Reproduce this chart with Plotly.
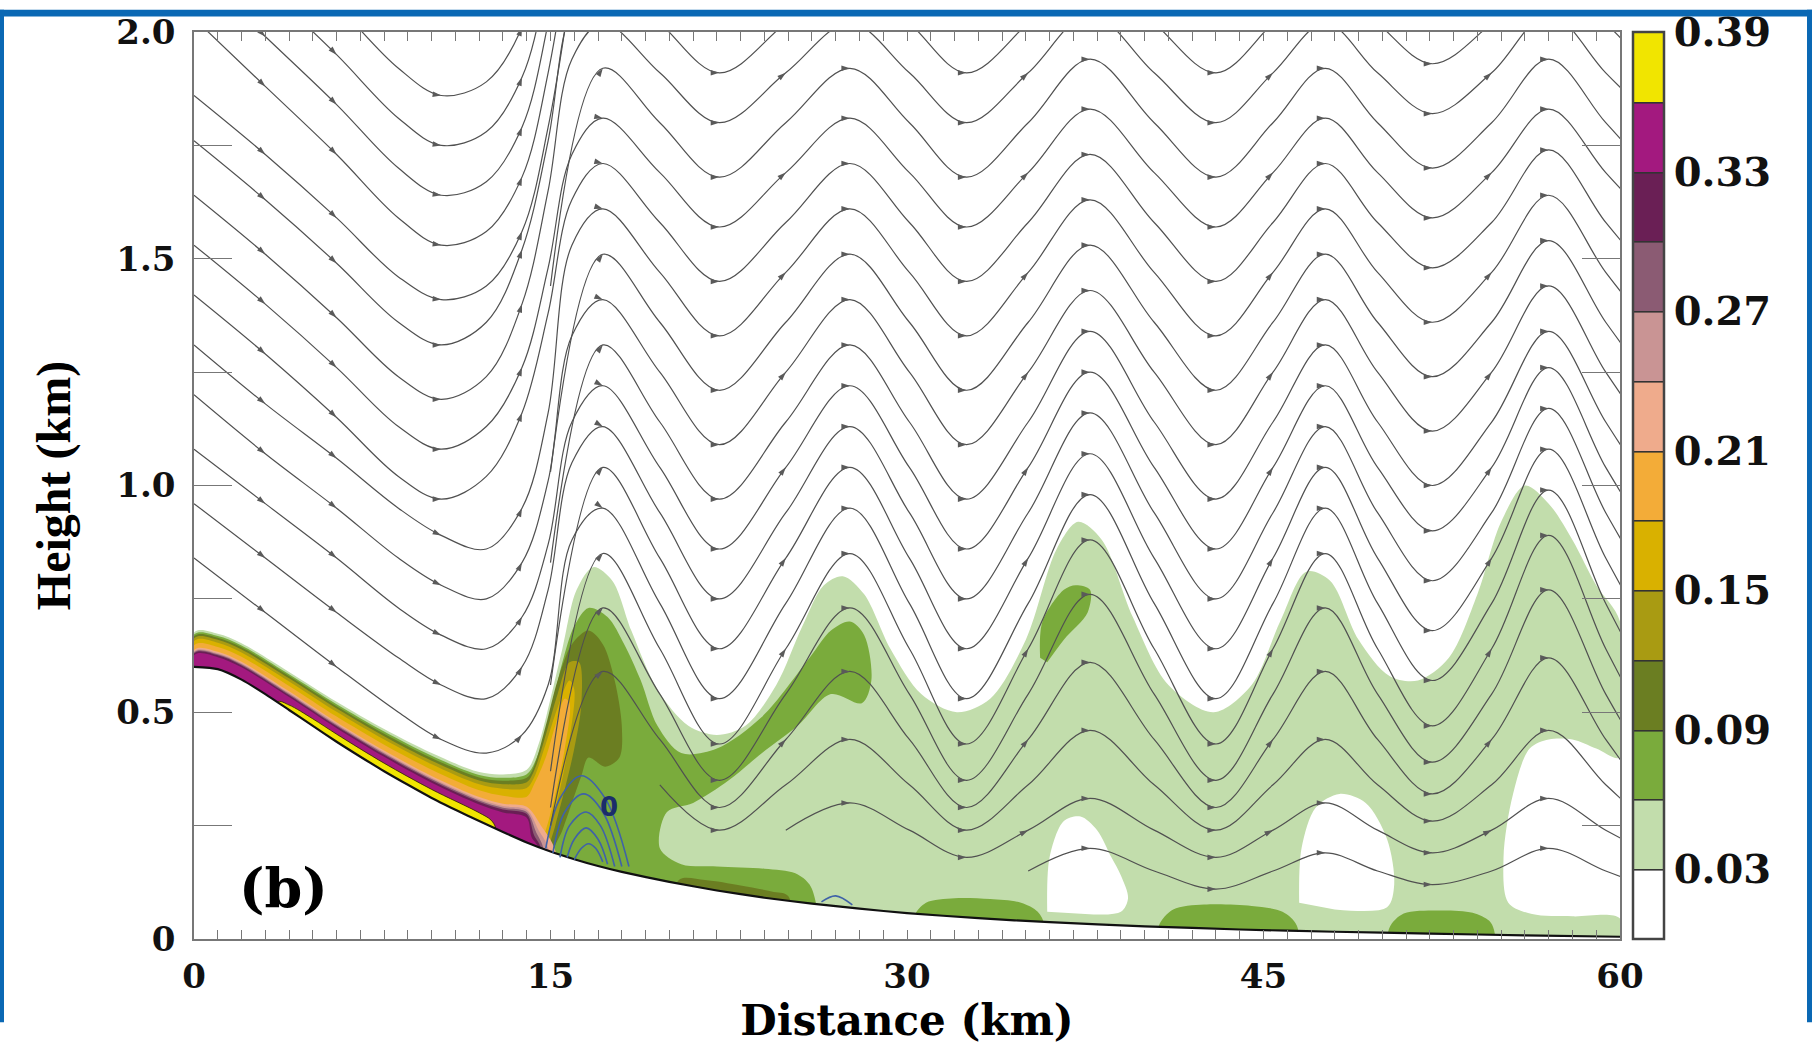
import math
import numpy as np
import plotly.graph_objects as go

# ---------------- data ----------------
TERRAIN_X = [0, 1, 2, 3, 4, 5, 6, 7, 8, 9, 10, 11, 12, 13, 14, 15, 16, 17, 18, 20, 22, 24, 26, 28, 30, 33, 36, 40, 44, 48, 52, 56, 60]
TERRAIN_Z = [0.600, 0.595, 0.572, 0.540, 0.505, 0.470, 0.435, 0.402, 0.370, 0.340, 0.311, 0.285, 0.260, 0.236, 0.213,
             0.193, 0.176, 0.161, 0.148, 0.126, 0.107, 0.091, 0.078, 0.067, 0.057, 0.046, 0.037, 0.028, 0.021, 0.016,
             0.012, 0.008, 0.005]

# contour levels of the shaded field and their colours (band below 0.03 is white)
LEVELS = [0.03, 0.06, 0.09, 0.12, 0.15, 0.18, 0.21, 0.24, 0.27, 0.30, 0.33, 0.36]
CBAR_MAX = 0.39
BAND_COLORS = ["#ffffff", "#c2ddac", "#7aab3c", "#6b7e22", "#a99b12", "#d9b100", "#f3ac38",
               "#efab8c", "#c99494", "#8b5b73", "#6a1f55", "#a3197f", "#f1e500"]
CBAR_TICKVALS = [0.03, 0.09, 0.15, 0.21, 0.27, 0.33, 0.3899]
CBAR_TICKTEXT = ["0.03", "0.09", "0.15", "0.21", "0.27", "0.33", "0.39"]

# thin coloured layer along the lee slope: depth above terrain, and fraction of depth for each level
BAND_X = [0, 1, 2, 4, 6, 8, 10, 12, 13, 14]
BAND_DEPTH = [0.076, 0.078, 0.080, 0.084, 0.088, 0.093, 0.099, 0.108, 0.127, 0.160]
BAND_FRAC = {0.06: 0.94, 0.09: 0.89, 0.12: 0.83, 0.15: 0.75, 0.18: 0.63, 0.21: 0.49,
             0.24: 0.45, 0.27: 0.42, 0.30: 0.39, 0.33: 0.34}
# continuation of each slope layer into the jump region (x, z)
BAND_EXT = {
    0.09: ([14.3, 14.8, 15.3, 15.9, 16.6, 17.2, 17.7, 18.0, 17.9, 17.3, 16.6, 16.3, 15.9, 15.5, 15.1, 15.0],
           [0.38, 0.47, 0.57, 0.65, 0.68, 0.65, 0.57, 0.47, 0.40, 0.38, 0.40, 0.36, 0.30, 0.24, 0.19, -0.05]),
    0.12: ([14.3, 14.8, 15.3, 15.8, 16.2, 16.3, 16.0, 15.6, 15.2, 14.9, 14.8],
           [0.37, 0.45, 0.54, 0.61, 0.61, 0.52, 0.42, 0.33, 0.25, 0.19, -0.05]),
    0.15: ([14.3, 14.8, 15.3, 15.8, 16.0, 15.8, 15.4, 15.0, 14.7, 14.6],
           [0.355, 0.43, 0.51, 0.57, 0.55, 0.44, 0.33, 0.25, 0.20, -0.05]),
    0.18: ([14.3, 14.8, 15.2, 15.6, 15.8, 15.6, 15.2, 14.8, 14.5, 14.4],
           [0.34, 0.40, 0.47, 0.53, 0.52, 0.42, 0.32, 0.24, 0.20, -0.05]),
    0.21: ([14.6, 15.2, 15.3], [0.25, 0.195, -0.05]),
    0.24: ([14.5, 14.9, 15.0], [0.24, 0.20, -0.05]),
    0.27: ([14.4, 14.7, 14.8], [0.235, 0.20, -0.05]),
    0.30: ([14.3, 14.6, 14.7], [0.23, 0.20, -0.05]),
    0.33: ([14.2, 14.5, 14.6], [0.225, 0.20, -0.05]),
}
YELLOW_X = [3.5, 4.0, 5.0, 6.0, 8.0, 10.0, 12.0, 12.5, 12.7]
YELLOW_FRAC = [0.0, 0.13, 0.18, 0.19, 0.19, 0.19, 0.17, 0.12, 0.0]

# outer edge of the 0.03 region downstream of the slope (top edge, then edge of white pocket at right)
ENV_X = [14.5, 15.0, 15.5, 16.1, 16.8, 17.6, 18.4, 19.5, 20.8, 22.0, 23.2, 24.5, 25.6, 26.5, 27.3, 28.2, 29.3,
         30.6, 32.1, 33.5, 35.0, 36.3, 37.2, 38.2, 39.5, 41.0, 42.9, 44.5, 45.7, 46.8, 47.8, 49.0, 50.3, 51.5,
         52.8, 54.0, 55.0, 56.0, 57.0, 58.0, 59.0, 60.0, 60.0, 59.0, 58.0, 57.0, 56.2, 55.5, 55.1, 55.3, 56.3,
         58.0, 60.0, 60.0]
ENV_Z = [0.43, 0.53, 0.64, 0.77, 0.82, 0.79, 0.68, 0.55, 0.47, 0.45, 0.47, 0.56, 0.69, 0.78, 0.80, 0.76, 0.64,
         0.54, 0.50, 0.53, 0.66, 0.86, 0.92, 0.88, 0.71, 0.56, 0.50, 0.56, 0.70, 0.81, 0.79, 0.66, 0.58, 0.57,
         0.62, 0.76, 0.92, 1.00, 0.96, 0.88, 0.78, 0.70, 0.40, 0.42, 0.44, 0.44, 0.42, 0.32, 0.18, 0.08, 0.055,
         0.05, 0.045, -0.05]
# 0.06 region: crest 1 and the band rising to crest 2
GA_X = [14.5, 15.0, 15.5, 16.0, 16.6, 17.4, 18.1, 18.8, 19.5, 20.5, 22.0, 23.9, 25.9, 26.8, 27.6, 28.2, 28.5,
        28.1, 26.8, 25.4, 23.9, 22.5, 21.0, 19.9, 19.6, 20.5, 22.0, 24.0, 25.3, 25.9, 26.2, 26.3]
GA_Z = [0.41, 0.50, 0.61, 0.69, 0.73, 0.71, 0.65, 0.57, 0.47, 0.41, 0.42, 0.49, 0.62, 0.68, 0.70, 0.67, 0.57,
        0.52, 0.54, 0.47, 0.41, 0.35, 0.30, 0.28, 0.20, 0.165, 0.16, 0.155, 0.145, 0.12, 0.07, -0.05]
# white pockets inside the 0.03 region
WHITE_POCKETS = [
    ([35.9, 36.0, 36.6, 37.3, 38.0, 38.6, 39.0, 39.3, 39.0, 37.5],
     [0.06, 0.18, 0.26, 0.27, 0.24, 0.18, 0.14, 0.09, 0.06, 0.055]),
    ([46.5, 46.6, 47.2, 48.2, 49.3, 50.2, 50.5, 50.2, 48.0],
     [0.08, 0.20, 0.29, 0.32, 0.30, 0.22, 0.12, 0.07, 0.065]),
]
# small 0.06 patches
GREEN_PATCHES = [
    ([35.6, 35.7, 36.6, 37.1, 37.7, 37.6, 36.6, 35.9], [0.62, 0.70, 0.77, 0.78, 0.77, 0.72, 0.66, 0.61]),
    ([30.2, 30.3, 30.8, 32.0, 33.5, 34.8, 35.5, 35.8, 35.9], [-0.05, 0.05, 0.08, 0.09, 0.088, 0.08, 0.06, 0.03, -0.05]),
    ([40.5, 40.6, 41.2, 42.5, 44.5, 45.8, 46.4, 46.5], [-0.05, 0.03, 0.065, 0.076, 0.073, 0.06, 0.03, -0.05]),
    ([50.2, 50.3, 50.9, 52.3, 53.8, 54.5, 54.7, 54.8], [-0.05, 0.025, 0.056, 0.063, 0.058, 0.04, 0.02, -0.05]),
]
OLIVE_STRIP = ([20.3, 20.4, 21.5, 23.0, 24.3, 25.0, 25.2], [-0.05, 0.13, 0.13, 0.118, 0.105, 0.095, -0.05])

# blue (zero) contour arcs
BLUE_ARCS = [
    ([14.8, 15.4, 16.3, 17.3, 18.3], [0.20, 0.31, 0.36, 0.31, 0.16]),
    ([15.1, 15.6, 16.4, 17.2, 18.0], [0.19, 0.28, 0.32, 0.28, 0.16]),
    ([15.4, 15.8, 16.5, 17.1, 17.7], [0.18, 0.25, 0.28, 0.25, 0.16]),
    ([15.7, 16.0, 16.5, 17.0, 17.4], [0.18, 0.22, 0.245, 0.22, 0.165]),
    ([16.0, 16.3, 16.6, 16.9, 17.2], [0.175, 0.20, 0.21, 0.20, 0.17]),
    ([26.4, 27.0, 27.7], [0.082, 0.095, 0.075]),
]

# streamlines downstream of the jump: heights at crest / trough / mid points
DX = [15.0, 17.2, 19.6, 22.1, 24.9, 27.6, 30.1, 32.5, 35.1, 37.7, 40.4, 43.0, 45.4, 47.6, 49.8, 52.1, 54.6, 57.0, 59.4, 61.5]
N = None
DOWN_Z = [
    [N, N, N, N, N, N, N, N, 0.15, 0.20, 0.15, 0.11, 0.15, 0.19, 0.15, 0.12, 0.15, 0.20, 0.15, 0.11],
    [N, N, N, N, 0.24, 0.30, 0.24, 0.18, 0.24, 0.31, 0.24, 0.18, 0.24, 0.30, 0.24, 0.19, 0.24, 0.31, 0.24, 0.18],
    [N, N, 0.34, 0.24, 0.34, 0.44, 0.34, 0.24, 0.34, 0.46, 0.34, 0.24, 0.34, 0.44, 0.34, 0.26, 0.34, 0.46, 0.34, 0.24],
    [0.25, 0.59, 0.44, 0.29, 0.44, 0.59, 0.44, 0.29, 0.44, 0.61, 0.44, 0.29, 0.44, 0.59, 0.44, 0.32, 0.44, 0.62, 0.44, 0.29],
    [0.29, 0.73, 0.54, 0.35, 0.54, 0.73, 0.54, 0.35, 0.54, 0.76, 0.54, 0.35, 0.54, 0.73, 0.54, 0.39, 0.54, 0.77, 0.54, 0.35],
    [0.37, 0.85, 0.64, 0.43, 0.64, 0.85, 0.64, 0.43, 0.64, 0.88, 0.64, 0.43, 0.64, 0.85, 0.64, 0.47, 0.64, 0.89, 0.64, 0.43],
    [N, 0.95, 0.74, 0.53, 0.74, 0.95, 0.74, 0.53, 0.74, 0.98, 0.74, 0.53, 0.74, 0.95, 0.74, 0.57, 0.74, 0.99, 0.74, 0.53],
    [0.56, 1.04, 0.84, 0.64, 0.84, 1.04, 0.84, 0.64, 0.84, 1.07, 0.84, 0.64, 0.84, 1.04, 0.84, 0.68, 0.84, 1.08, 0.84, 0.64],
    [N, 1.13, 0.94, 0.75, 0.94, 1.13, 0.94, 0.75, 0.94, 1.16, 0.94, 0.75, 0.94, 1.13, 0.94, 0.79, 0.94, 1.17, 0.94, 0.75],
    [N, 1.22, 1.04, 0.86, 1.04, 1.22, 1.04, 0.86, 1.04, 1.25, 1.04, 0.86, 1.04, 1.22, 1.04, 0.90, 1.04, 1.26, 1.04, 0.86],
    [0.83, 1.31, 1.14, 0.97, 1.14, 1.31, 1.14, 0.97, 1.14, 1.34, 1.14, 0.97, 1.14, 1.31, 1.14, 1.00, 1.14, 1.34, 1.14, 0.97],
    [N, 1.41, 1.25, 1.09, 1.25, 1.41, 1.25, 1.09, 1.25, 1.43, 1.25, 1.09, 1.25, 1.41, 1.25, 1.12, 1.25, 1.44, 1.25, 1.09],
    [1.03, 1.51, 1.36, 1.21, 1.36, 1.51, 1.36, 1.21, 1.36, 1.53, 1.36, 1.21, 1.36, 1.51, 1.36, 1.24, 1.36, 1.54, 1.36, 1.21],
    [N, 1.61, 1.47, 1.33, 1.47, 1.61, 1.47, 1.33, 1.47, 1.63, 1.47, 1.33, 1.47, 1.61, 1.47, 1.36, 1.47, 1.64, 1.47, 1.33],
    [N, 1.71, 1.58, 1.45, 1.58, 1.71, 1.58, 1.45, 1.58, 1.73, 1.58, 1.45, 1.58, 1.71, 1.58, 1.48, 1.58, 1.74, 1.58, 1.45],
    [N, 1.81, 1.69, 1.57, 1.69, 1.81, 1.69, 1.57, 1.69, 1.83, 1.69, 1.57, 1.69, 1.81, 1.69, 1.59, 1.69, 1.83, 1.69, 1.57],
    [1.44, 1.92, 1.80, 1.68, 1.80, 1.92, 1.80, 1.68, 1.80, 1.94, 1.80, 1.68, 1.80, 1.92, 1.80, 1.70, 1.80, 1.94, 1.80, 1.68],
    [N, 2.02, 1.91, 1.80, 1.91, 2.02, 1.91, 1.80, 1.91, 2.04, 1.91, 1.80, 1.91, 2.02, 1.91, 1.82, 1.91, 2.04, 1.91, 1.80],
    [N, 2.13, 2.02, 1.91, 2.02, 2.13, 2.02, 1.91, 2.02, 2.15, 2.02, 1.91, 2.02, 2.13, 2.02, 1.93, 2.02, 2.15, 2.02, 1.91],
]
# streamlines over the slope (U-shaped, trough near x = 10-12 km), then rising in the jump
UX = [0, 3, 6, 8.6, 10.4, 12.3, 13.8, 14.9]
UP_Z = [
    [2.36, 2.21, 2.06, 1.92, 1.86, 1.89, 2.01, 2.24],
    [2.25, 2.10, 1.95, 1.81, 1.75, 1.78, 1.90, 2.13],
    [2.14, 1.99, 1.84, 1.70, 1.64, 1.67, 1.79, 2.02],
    [2.03, 1.88, 1.73, 1.59, 1.53, 1.56, 1.68, 1.91],
    [1.86, 1.73, 1.59, 1.46, 1.41, 1.44, 1.56, 1.79],
    [1.76, 1.63, 1.49, 1.36, 1.31, 1.36, 1.52, 1.76],
    [1.64, 1.51, 1.37, 1.24, 1.19, 1.24, 1.40, 1.65],
    [1.53, 1.40, 1.26, 1.13, 1.08, 1.13, 1.26, 1.48],
    [1.42, 1.29, 1.15, 1.02, 0.97, 1.02, 1.16, 1.38],
    [1.31, 1.18, 1.06, 0.95, 0.89, 0.86, 0.95, 1.16],
    [1.20, 1.07, 0.95, 0.84, 0.78, 0.75, 0.83, 1.01],
    [1.08, 0.96, 0.84, 0.73, 0.67, 0.64, 0.71, 0.87],
    [0.96, 0.84, 0.72, 0.62, 0.56, 0.53, 0.60, 0.77],
    [0.84, 0.72, 0.60, 0.50, 0.44, 0.41, 0.45, 0.56],
]
UP_JOIN_X = 15.9
UP_JOIN_Z = [2.56, 2.45, 2.34, 2.23, 2.11, 2.05, 1.94, 1.73, 1.63, 1.53, 1.33, 1.14, 1.05, 0.88]
UP_LINK = [N, N, N, N, N, 18, 17, 15, 14, 13, 11, 9, 8, 6]   # downstream line each one continues into

# ---------------- figure ----------------
SX = 1426 / 60.0   # px per km (x)
SZ = 936 / 2.0     # px per km (z)
LINE_COL = "#505050"
ARROW_COL = "#5a5a5a"

fig = go.Figure()


def terrain_at(xs):
    return np.interp(xs, TERRAIN_X, TERRAIN_Z)


def add_poly(xs, zs, color, lw=0, lcol=None, smooth=0.9):
    fig.add_trace(go.Scatter(x=list(xs), y=list(zs), mode="lines", fill="toself", fillcolor=color,
                             line=dict(color=lcol or color, width=lw, shape="spline", smoothing=smooth),
                             hoverinfo="skip", showlegend=False))


def band_top(frac):
    return list(terrain_at(BAND_X) + frac * np.array(BAND_DEPTH))


col = {lv: BAND_COLORS[i + 1] for i, lv in enumerate(LEVELS)}

# 0.03 region
add_poly([0] + BAND_X + ENV_X + [0], [-0.05] + band_top(1.0) + ENV_Z + [-0.05], col[0.03])
for wx, wz in WHITE_POCKETS:
    add_poly(wx, wz, "#ffffff")
# 0.06 region
add_poly([0] + BAND_X + GA_X + [0], [-0.05] + band_top(BAND_FRAC[0.06]) + GA_Z + [-0.05], col[0.06])
for gx, gz in GREEN_PATCHES:
    add_poly(gx, gz, col[0.06])
add_poly(*OLIVE_STRIP, col[0.09])
# slope layers 0.09 ... 0.33
for lv in [0.09, 0.12, 0.15, 0.18, 0.21, 0.24, 0.27, 0.30, 0.33]:
    ex, ez = BAND_EXT[lv]
    add_poly([0] + BAND_X + ex + [0], [-0.05] + band_top(BAND_FRAC[lv]) + ez + [-0.05], col[lv])
# yellow core (0.36)
yt = list(terrain_at(YELLOW_X) + np.array(YELLOW_FRAC) * np.interp(YELLOW_X, BAND_X, BAND_DEPTH))
add_poly([YELLOW_X[0]] + YELLOW_X + [YELLOW_X[-1]], [-0.05] + yt + [-0.05], col[0.36], lw=0.9, lcol="#3a3200")

# terrain (white below, black outline)
fig.add_trace(go.Scatter(x=TERRAIN_X, y=TERRAIN_Z, mode="lines", fill="tozeroy", fillcolor="#ffffff",
                         line=dict(color="#111111", width=2.2, shape="spline", smoothing=0.6),
                         hoverinfo="skip", showlegend=False))

# blue zero contours
for bx, bz in BLUE_ARCS:
    fig.add_trace(go.Scatter(x=bx, y=bz, mode="lines", line=dict(color="#3f62a8", width=1.6, shape="spline"),
                             hoverinfo="skip", showlegend=False))


def add_stream(xs, zs, arrow_idx):
    fig.add_trace(go.Scatter(x=xs, y=zs, mode="lines",
                             line=dict(color=LINE_COL, width=1.2, shape="spline", smoothing=1.0),
                             hoverinfo="skip", showlegend=False))
    axs, azs, ang = [], [], []
    for i in arrow_idx:
        if 0 < i < len(xs) - 1:
            dx = (xs[i + 1] - xs[i - 1]) * SX
            dz = (zs[i + 1] - zs[i - 1]) * SZ
            axs.append(xs[i]); azs.append(zs[i]); ang.append(math.degrees(math.atan2(dx, dz)))
    fig.add_trace(go.Scatter(x=axs, y=azs, mode="markers",
                             marker=dict(symbol="arrow", size=9, color=ARROW_COL, angle=ang, line=dict(width=0)),
                             hoverinfo="skip", showlegend=False))


linked = set(l for l in UP_LINK if l is not None)
# downstream-only lines
for j, row in enumerate(DOWN_Z):
    if j in linked:
        continue
    s = next(k for k, v in enumerate(row) if v is not None)
    xs = DX[s:]
    zs = row[s:]
    idx = [k - s for k in range(len(DX)) if k >= s and (k % 2 == 1 or (j % 2 == 1 and k % 4 == 0))]
    add_stream(xs, zs, idx)
# slope lines (with continuation)
for u, row in enumerate(UP_Z):
    xs = UX + [UP_JOIN_X]
    zs = row + [UP_JOIN_Z[u]]
    idx = [1, 2, 4, 6]
    link = UP_LINK[u]
    if link is not None:
        off = len(xs) - 1
        xs = xs + DX[1:]
        zs = zs + DOWN_Z[link][1:]
        idx += [off + k for k in range(1, len(DX)) if (k % 2 == 1 or (link % 2 == 1 and k % 4 == 0))]
    add_stream(xs, zs, idx)

# colour bar (contour levels of the shaded field), stepped scale over [0, 0.39]
n_band = len(BAND_COLORS)
cscale = []
for i, c in enumerate(BAND_COLORS):
    cscale += [[i / n_band, c], [(i + 1) / n_band, c]]
fig.add_trace(go.Contour(
    x=[200, 201], y=[10, 11], z=[[0.01, 0.2], [0.2, 0.38]],
    zmin=0, zmax=CBAR_MAX,
    contours=dict(start=LEVELS[0], end=LEVELS[-1], size=0.03, coloring="heatmap", showlines=True),
    line=dict(color="#333333", width=1.6),
    colorscale=cscale, showscale=True, hoverinfo="skip",
    colorbar=dict(x=(1633 - 194) / 1426, xanchor="left", y=0.5, yanchor="middle", len=1.0,
                  thickness=31, thicknessmode="pixels", xpad=0, ypad=0,
                  outlinewidth=2.5, outlinecolor="#444444", ticks="",
                  tickvals=CBAR_TICKVALS, ticktext=CBAR_TICKTEXT,
                  tickfont=dict(family="DejaVu Serif", size=40, color="#111111", weight="bold"))))

# labels inside the plot
fig.add_annotation(x=3.75, y=0.113, text="(b)", showarrow=False,
                   font=dict(family="DejaVu Serif", size=54, color="#000000", weight="bold"))
fig.add_annotation(x=17.45, y=0.29, text="0", showarrow=False,
                   font=dict(family="DejaVu Sans", size=26, color="#1b2d6b", weight="bold"))

tick_font = dict(family="DejaVu Serif", size=34, color="#111111", weight="bold")
fig.update_layout(
    width=1812, height=1045,
    margin=dict(l=194, r=192, t=23, b=86),
    paper_bgcolor="#ffffff", plot_bgcolor="#ffffff", showlegend=False,
    xaxis=dict(range=[0, 60], tickvals=[0, 15, 30, 45, 60], ticktext=["0", "15", "30", "45", "60"],
               ticks="inside", ticklen=9, tickwidth=1.2, tickcolor="#777777",
               minor=dict(dtick=1, ticks="inside", ticklen=9, tickwidth=1.2, tickcolor="#777777"),
               showline=True, linecolor="#777777", linewidth=1.5, mirror="allticks",
               showgrid=False, zeroline=False, tickfont=tick_font, ticklabelstandoff=6,
               title=dict(text="Distance (km)", standoff=8,
                          font=dict(family="DejaVu Serif", size=42, color="#000000", weight="bold"))),
    yaxis=dict(range=[0, 2], tickvals=[0, 0.5, 1.0, 1.5, 2.0], ticktext=["0", "0.5", "1.0", "1.5", "2.0"],
               ticks="inside", ticklen=38, tickwidth=1.2, tickcolor="#777777",
               minor=dict(tickvals=[0.25, 0.75, 1.25, 1.75], ticks="inside", ticklen=38, tickwidth=1.2,
                          tickcolor="#777777"),
               showline=True, linecolor="#777777", linewidth=1.5, mirror="allticks",
               showgrid=False, zeroline=False, tickfont=tick_font, ticklabelstandoff=10,
               title=dict(text="Height (km)", standoff=30,
                          font=dict(family="Liberation Serif", size=48, color="#000000", weight="bold"))),
)

# blue frame around the picture
W, H, L, T, PW, PH = 1812, 1045, 194, 23, 1426, 936
def px_x(p): return (p - L) / PW
def px_y(p): return (T + PH - p) / PH
frame = "#0a68b4"
for x0, y0, x1, y1 in [(0, 0, W, 7), (0, 0, 4, H), (W - 5, 0, W, H)]:
    fig.add_shape(type="rect", xref="paper", yref="paper", x0=px_x(x0), x1=px_x(x1), y0=px_y(y1), y1=px_y(y0),
                  fillcolor=frame, line=dict(width=0), layer="above")

fig.write_html("out.html")
